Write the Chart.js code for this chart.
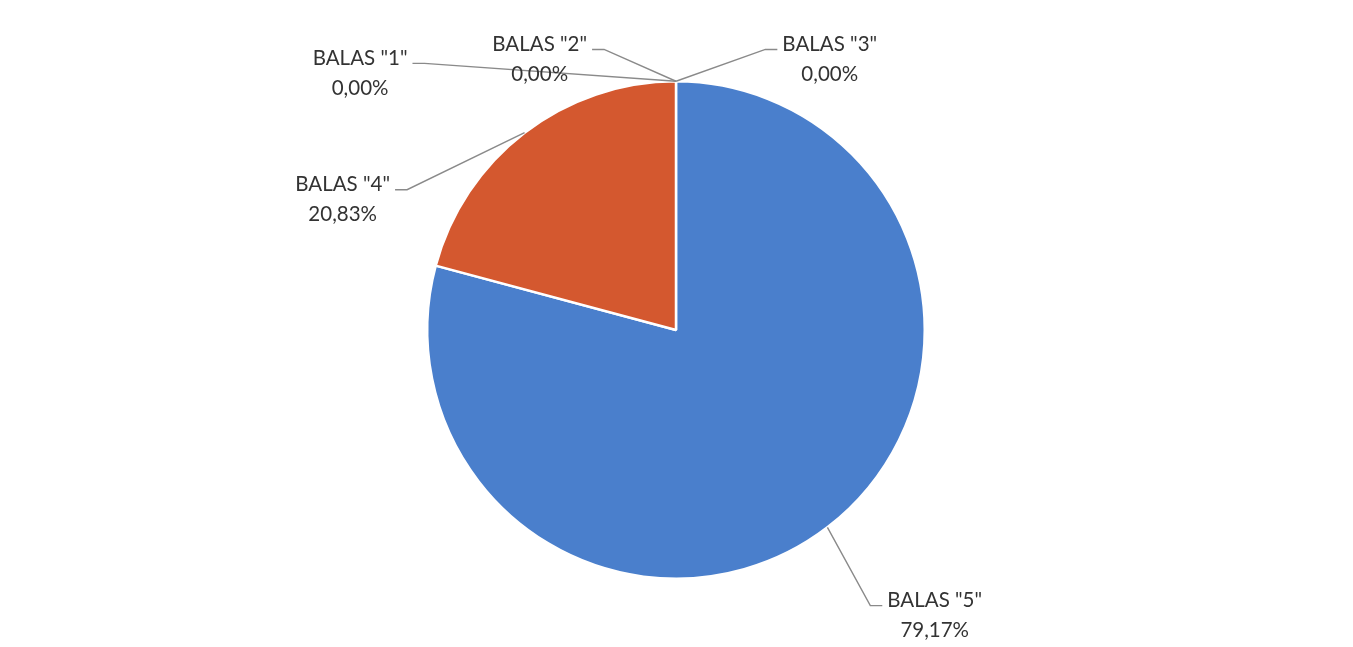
<!DOCTYPE html>
<html>
<head>
<meta charset="utf-8">
<script src="https://cdn.jsdelivr.net/npm/chart.js@4/dist/chart.umd.min.js"></script>
<style>
  html, body { margin: 0; padding: 0; background: #ffffff; }
  #wrap { width: 1353px; height: 647px; position: relative; }
</style>
</head>
<body>
<div id="wrap"><canvas id="c" width="1353" height="647"></canvas></div>
<script>
// Categories in drawing order (clockwise from top)
const categories = ['BALAS "5"', 'BALAS "4"', 'BALAS "1"', 'BALAS "2"', 'BALAS "3"'];
const counts = [19, 5, 0, 0, 0];
const colors = ['#4a7fcc', '#d4582f', '#a5a5a5', '#ffc000', '#5b9bd5'];

const total = counts.reduce((a, b) => a + b, 0);
function pctText(v) {
  return (v / total * 100).toFixed(2).replace('.', ',') + '%';
}

// label placement relative to pie centre, in units of radius
const labelPlacement = [
  { dx: 1.04, dy: 1.088, side: 'left' },    // 5
  { dx: -1.34, dy: -0.584, side: 'right' }, // 4
  { dx: -1.27, dy: -1.092, side: 'right' }, // 1
  { dx: -0.548, dy: -1.148, side: 'right' },// 2
  { dx: 0.618, dy: -1.148, side: 'left' }   // 3
];

const leaderPlugin = {
  id: 'leaderLabels',
  afterDatasetsDraw(chart) {
    const ctx = chart.ctx;
    const meta = chart.getDatasetMeta(0);
    ctx.save();
    ctx.font = '20.5px Lato, "Open Sans", sans-serif';
    ctx.textAlign = 'center';
    ctx.textBaseline = 'middle';
    meta.data.forEach((arc, i) => {
      const p = arc.getProps(['x', 'y', 'startAngle', 'endAngle', 'outerRadius'], true);
      const r = p.outerRadius;
      const mid = (p.startAngle + p.endAngle) / 2;
      const ax = p.x + Math.cos(mid) * r;
      const ay = p.y + Math.sin(mid) * r;
      const pl = labelPlacement[i];
      const lx = p.x + pl.dx * r;
      const ly = p.y + pl.dy * r;
      const l1 = categories[i];
      const l2 = pctText(counts[i]);
      const w = ctx.measureText(l1).width;
      // leader line
      const yLine = ly + 5;
      let sx, ex;
      if (pl.side === 'right') { sx = lx + w / 2 + 5; ex = sx + 12; }
      else { sx = lx - w / 2 - 5; ex = sx - 12; }
      ctx.strokeStyle = '#8a8a8a';
      ctx.lineWidth = 1.4;
      ctx.beginPath();
      ctx.moveTo(sx, yLine);
      ctx.lineTo(ex, yLine);
      ctx.lineTo(ax, ay);
      ctx.stroke();
      ctx.fillStyle = '#333333';
      ctx.fillText(l1, lx, ly);
      ctx.fillText(l2, lx, ly + 30);
    });
    ctx.restore();
  }
};

new Chart(document.getElementById('c'), {
  type: 'pie',
  data: {
    labels: categories,
    datasets: [{
      data: counts,
      backgroundColor: colors,
      borderColor: '#ffffff',
      borderWidth: 2.5
    }]
  },
  options: {
    responsive: false,
    animation: false,
    layout: { padding: { top: 80, bottom: 67, left: 0, right: 1 } },
    plugins: {
      legend: { display: false },
      tooltip: { enabled: false }
    }
  },
  plugins: [leaderPlugin]
});
</script>
</body>
</html>
